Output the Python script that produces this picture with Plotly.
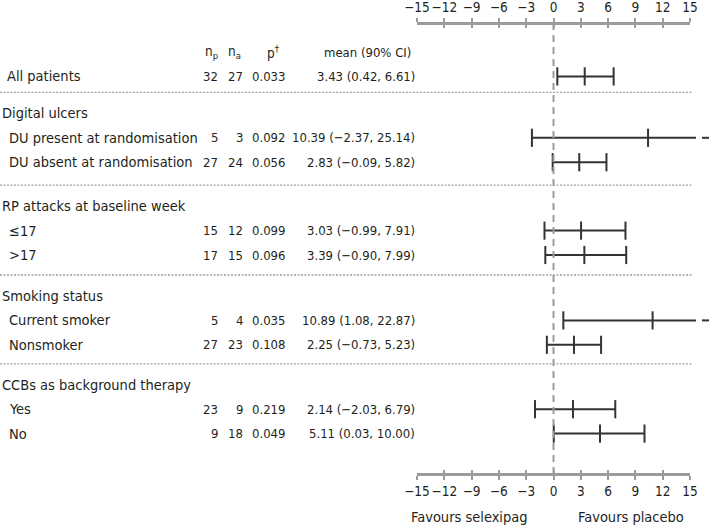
import plotly.graph_objects as go

# ---------------- data ----------------
row_labels = ["All patients",
              "DU present at randomisation", "DU absent at randomisation",
              "≤17", ">17",
              "Current smoker", "Nonsmoker",
              "Yes", "No"]
row_group = [0, 1, 1, 2, 2, 3, 3, 4, 4]
group_titles = [None, "Digital ulcers", "RP attacks at baseline week",
                "Smoking status", "CCBs as background therapy"]
n_p = [32, 5, 27, 15, 17, 5, 27, 23, 9]
n_a = [27, 3, 24, 12, 15, 4, 23, 9, 18]
p_values = [0.033, 0.092, 0.056, 0.099, 0.096, 0.035, 0.108, 0.219, 0.049]
means = [3.43, 10.39, 2.83, 3.03, 3.39, 10.89, 2.25, 2.14, 5.11]
ci_low = [0.42, -2.37, -0.09, -0.99, -0.90, 1.08, -0.73, -2.03, 0.03]
ci_high = [6.61, 25.14, 5.82, 7.91, 7.99, 22.87, 5.23, 6.79, 10.00]
tick_vals = [-15, -12, -9, -6, -3, 0, 3, 6, 9, 12, 15]
x_left_label = "Favours selexipag"
x_right_label = "Favours placebo"

# ---------------- layout constants ----------------
W, H = 709, 526
FONT = "DejaVu Sans Condensed, DejaVu Sans, sans-serif"
NUMFONT = FONT
TXT = "#231f20"
GREY = "#9b9b9b"
FS = 14.5
NFS = 13
X_NEG, X_POS = 417, 690            # pixel positions of -15 and 15
PX_PER_UNIT = (X_POS - X_NEG) / 30.0
X_MAX = 15 + (W - X_POS) / PX_PER_UNIT
TRUNC = 15 + (696 - X_POS) / PX_PER_UNIT
DASH0 = 15 + (702 - X_POS) / PX_PER_UNIT
TOP_AXIS_Y, BOT_AXIS_Y = 23, 474
HEADER_Y, STEP = 52, 24.4
GROUP_GAPS = {1: 37, 2: 44, 3: 41, 4: 40}   # distance from previous row to group title
SEP_ABOVE_TITLE = 21

def minus(s):
    return s.replace("-", "\u2212")

# row positions
row_y, title_y, sep_y = [], {}, []
y = HEADER_Y
prev_group = None
for i, g in enumerate(row_group):
    if g != prev_group and group_titles[g] is not None:
        y += GROUP_GAPS[g]
        title_y[g] = y
        sep_y.append(y - SEP_ABOVE_TITLE)
        y += STEP
    else:
        y += STEP
    row_y.append(y)
    prev_group = g

fig = go.Figure()

# CI lines
lx, ly, cx, cy, ax_, ay_ = [], [], [], [], [], []
for yr, lo, m, hi in zip(row_y, ci_low, means, ci_high):
    lx += [lo, min(hi, TRUNC), None]
    ly += [yr, yr, None]
    cx += [lo, m]
    cy += [yr, yr]
    if hi <= 15:
        cx.append(hi)
        cy.append(yr)
    else:
        ax_ += [DASH0, X_MAX, None]
        ay_ += [yr, yr, None]

# zero reference line on the scale axis
fig.add_trace(go.Scatter(x=[0, 0], y=[TOP_AXIS_Y, BOT_AXIS_Y], xaxis="x2", yaxis="y",
                         mode="lines", line=dict(color=GREY, width=2, dash="7px,5px"),
                         hoverinfo="skip", showlegend=False))
for axn in ["x3", "x4", "x5"]:
    fig.add_trace(go.Scatter(x=[None], y=[None], xaxis=axn, yaxis="y",
                             mode="markers", showlegend=False, hoverinfo="skip"))

fig.add_trace(go.Scatter(x=lx, y=ly, mode="lines",
                         line=dict(color="#333333", width=2),
                         hoverinfo="skip", showlegend=False))
fig.add_trace(go.Scatter(x=ax_, y=ay_, mode="lines",
                         line=dict(color="#333333", width=2),
                         hoverinfo="skip", showlegend=False))
fig.add_trace(go.Scatter(x=cx, y=cy, mode="markers",
                         marker=dict(symbol="line-ns", size=13,
                                     line=dict(color="#333333", width=2)),
                         hoverinfo="skip", showlegend=False, cliponaxis=False))

# table text
ann = []
def add(text, xpx, ypx, anchor="left", family=FONT, size=FS):
    ann.append(dict(text=text, x=xpx / W, y=ypx, xref="paper", yref="y",
                    xanchor=anchor, yanchor="middle", showarrow=False,
                    font=dict(family=family, size=size, color=TXT)))

add("n<sub>p</sub>", 211, HEADER_Y, "center", size=NFS + 0.5)
add("n<sub>a</sub>", 234, HEADER_Y, "center", size=NFS + 0.5)
add("p<sup>†</sup>", 273, HEADER_Y, "center", size=NFS + 0.5)
add("mean (90% CI)", 367, HEADER_Y, "center", size=NFS)

for g, t in enumerate(group_titles):
    if t is not None:
        add(t, 0, title_y[g])

for i, yr in enumerate(row_y):
    indent = 5 if group_titles[row_group[i]] is None else 7
    add(row_labels[i], indent, yr)
    add(str(n_p[i]), 220, yr, "right", NUMFONT, NFS)
    add(str(n_a[i]), 245, yr, "right", NUMFONT, NFS)
    add(f"{p_values[i]:.3f}", 287, yr, "right", NUMFONT, NFS)
    add(minus(f"{means[i]:.2f} ({ci_low[i]:.2f}, {ci_high[i]:.2f})"), 417, yr, "right",
        NUMFONT, NFS)

add(x_left_label, 469, 517, "center")
add(x_right_label, 631, 517, "center")

shapes = [dict(type="line", xref="paper", yref="y", x0=0, x1=692 / W, y0=s, y1=s,
               line=dict(color="#a0a0a0", width=1.3, dash="2px,1.5px"))
          for s in sep_y]

scale_common = dict(range=[-15, 15],
                    tickvals=tick_vals, ticktext=[minus(str(v)) for v in tick_vals],
                    showgrid=False, zeroline=False, anchor="free", fixedrange=True,
                    tickcolor=GREY, tickwidth=2, ticklen=4, tickangle=0,
                    automargin=False)
top_pos = 1 - TOP_AXIS_Y / H
bot_pos = 1 - BOT_AXIS_Y / H
tfont = dict(family=NUMFONT, size=NFS + 0.5, color=TXT)

fig.update_layout(
    width=W, height=H,
    margin=dict(l=0, r=0, t=0, b=0, pad=0, autoexpand=False),
    paper_bgcolor="white", plot_bgcolor="rgba(0,0,0,0)",
    showlegend=False,
    font=dict(family=FONT, size=FS, color=TXT),
    xaxis=dict(domain=[X_NEG / W, 1], range=[-15, X_MAX], visible=False,
               fixedrange=True, automargin=False),
    yaxis=dict(domain=[0, 1], range=[H, 0], visible=False, fixedrange=True,
               automargin=False),
    xaxis2=dict(**scale_common, domain=[X_NEG / W, X_POS / W], side="top",
                position=top_pos, ticks="outside",
                showline=True, linecolor=GREY, linewidth=2.5,
                tickfont=tfont, ticklabelstandoff=1),
    xaxis4=dict(**scale_common, side="top", position=top_pos, ticks="inside",
                overlaying="x2", showticklabels=False, showline=False),
    xaxis3=dict(**scale_common, side="bottom", position=bot_pos, ticks="outside",
                overlaying="x2", showline=True, linecolor=GREY, linewidth=2.5,
                tickfont=tfont, ticklabelstandoff=0),
    xaxis5=dict(**scale_common, side="bottom", position=bot_pos, ticks="inside",
                overlaying="x2", showticklabels=False, showline=False),
    annotations=ann,
    shapes=shapes,
)

fig.write_html("out.html",
               config={"displayModeBar": False, "staticPlot": True},
               post_script="document.body.style.margin='0';document.body.style.padding='0';")
